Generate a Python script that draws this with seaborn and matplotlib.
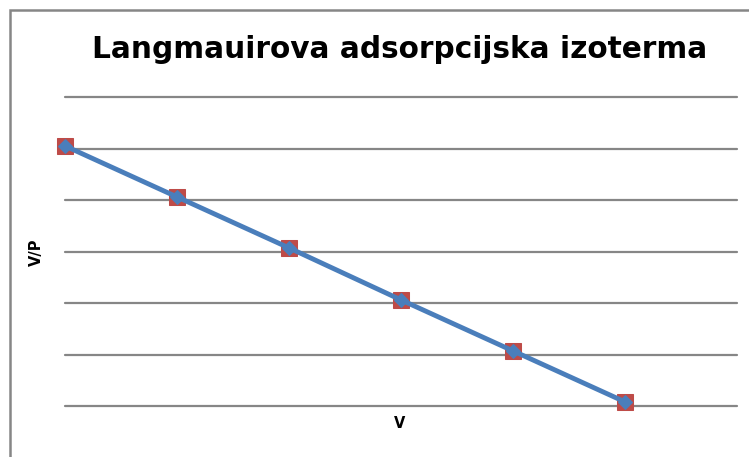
import matplotlib
matplotlib.use("Agg")
import matplotlib.pyplot as plt
import seaborn as sns
import pandas as pd
from matplotlib.patches import Rectangle

V = [1, 2, 3, 4, 5, 6]
VP = [5.05, 4.06, 3.07, 2.06, 1.07, 0.08]
title = "Langmauirova adsorpcijska izoterma"
xlabel = "V"
ylabel = "V/P"

df = pd.DataFrame({"V": V, "VP": VP})

sns.set_theme(style="white")
plt.rcParams['font.family'] = ['DejaVu Sans']

W, H = 749, 457
fig = plt.figure(figsize=(W / 100, H / 100), dpi=100)
ax = fig.add_axes([65 / W, (H - 406) / H, 672 / W, 309 / H])

grid_color = "#868686"
for yv in range(0, 7):
    ax.axhline(yv, color=grid_color, lw=1.6, zorder=1, clip_on=False)

# red squares series
sns.lineplot(data=df, x="V", y="VP", ax=ax, color="#BE4B48", lw=0,
             marker="s", markersize=12, markeredgecolor="#BE4B48",
             zorder=3, clip_on=False)
# blue line with diamonds
sns.lineplot(data=df, x="V", y="VP", ax=ax, color="#4A7EBB", lw=3.5,
             marker="D", markersize=7, markeredgecolor="#4A7EBB",
             zorder=4, clip_on=False)

ax.set_xlim(1, 7)
ax.set_ylim(0, 6)
ax.set_xticks([])
ax.set_yticks([])
for s in ax.spines.values():
    s.set_visible(False)
ax.set_xlabel("")
ax.set_ylabel("")

fig.text(400 / W, 1 - 49 / H, title, ha="center", va="center",
         fontsize=21.3, fontweight="bold", color="black")
fig.text(400 / W, 1 - 424 / H, xlabel, ha="center", va="center",
         fontsize=10.5, fontweight="bold", color="black")
fig.text(36 / W, 1 - 252 / H, ylabel, ha="center", va="center",
         fontsize=10.5, fontweight="bold", color="black", rotation=90)

fig.patches.append(Rectangle((10 / W, -0.05), 1.0, 1 - 10 / H + 0.05,
                             transform=fig.transFigure, fill=False,
                             edgecolor=grid_color, lw=1.8))

fig.savefig("out.png", dpi=100)
